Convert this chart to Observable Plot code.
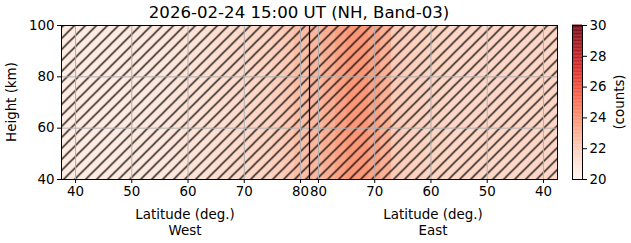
<!DOCTYPE html>
<html><head><meta charset="utf-8">
<script src="https://cdn.jsdelivr.net/npm/d3@7"></script>
<script src="https://cdn.jsdelivr.net/npm/@observablehq/plot@0.6"></script>
<style>
body{margin:0;background:#fff;}
#wrap{position:relative;width:631px;height:243px;overflow:hidden;}
#wrap svg{position:absolute;left:0;top:0;font-family:"DejaVu Sans",sans-serif !important;}
#wrap svg text{font-size:13.4px !important;fill:#000;}
#wrap svg text.title{font-size:16.6px !important;}
</style>
</head><body>
<div id="wrap"></div>
<script>
// ---- data ----
const title = "2026-02-24 15:00 UT (NH, Band-03)";
const westLat = [38,40,42,44,46,48,50,52,54,56,58,60,62,64,66,68,70,72,74,76,78,80];
const westVal = [20.6,20.6,20.6,20.6,20.6,20.6,20.7,20.7,20.8,20.8,20.9,21.0,21.0,21.1,21.2,21.3,21.4,21.5,21.6,21.8,22.0,22.4];
const eastLat = [80,78,76,74,72,70,68,66,64,62,60,58,56,54,52,50,48,46,44,42,40,38];
const eastVal = [22.6,22.9,23.3,23.6,23.6,23.3,22.8,21.9,21.8,21.7,21.6,21.6,21.5,21.5,21.5,21.5,21.5,21.5,21.5,21.5,21.5,21.5];
const latTicks = [40,50,60,70,80];
const heightTicks = [40,60,80,100];
const colorTicks = [20,22,24,26,28,30];
const latMin = 37.5, latMax = 81.6, hMin = 40, hMax = 100, cMin = 20, cMax = 30;

// ---- build ----
const toU = (lat, side) => side === "W" ? lat : 2*latMax - lat;
const lo = (lat) => lat === 38 ? latMin : lat - 1;
const hi = (lat) => lat === 80 ? latMax : lat + 1;
const cells = [];
westLat.forEach((lat,i)=>cells.push({x1:toU(lo(lat),"W"), x2:toU(hi(lat),"W"), v:westVal[i]}));
eastLat.forEach((lat,i)=>cells.push({x1:toU(hi(lat),"E"), x2:toU(lo(lat),"E"), v:eastVal[i]}));
const xTicks = [...latTicks.map(l=>toU(l,"W")), ...latTicks.slice().reverse().map(l=>toU(l,"E"))];
const xLabels = new Map(xTicks.map(u=>[u, String(Math.round(u<=latMax?u:2*latMax-u))]));

const W = 631, H = 243, mL = 61, mR = 74, mT = 25, mB = 64;
const main = Plot.plot({
  width: W, height: H, marginLeft: mL, marginRight: mR, marginTop: mT, marginBottom: mB,
  style: {background: "transparent", color: "#000"},
  x: {domain: [latMin, 2*latMax-latMin], ticks: xTicks, tickFormat: d => xLabels.get(d), tickSize: 4, tickPadding: 3, label: null},
  y: {domain: [hMin, hMax], ticks: heightTicks, tickSize: 4, tickPadding: 3, label: null},
  color: {type: "linear", scheme: "reds", domain: [cMin, cMax]},
  marks: [
    Plot.rect(cells, {x1: "x1", x2: "x2", y1: hMin, y2: hMax, fill: "v", inset: -0.3, shapeRendering: "crispEdges"}),
    Plot.frame({fill: "url(#hatch)", stroke: null, fillOpacity: 1}),
    Plot.gridX(xTicks, {stroke: "#b0b0b0", strokeOpacity: 1, strokeWidth: 1}),
    Plot.gridY(heightTicks, {stroke: "#b0b0b0", strokeOpacity: 1, strokeWidth: 1}),
    Plot.ruleX([latMax], {stroke: "#000", strokeWidth: 1.2}),
    Plot.frame({stroke: "#000", strokeWidth: 1})
  ]
});
const ns = "http://www.w3.org/2000/svg";
const defs = document.createElementNS(ns, "defs");
defs.innerHTML = '<pattern id="hatch" patternUnits="userSpaceOnUse" width="11" height="11"><path d="M-2,2 L2,-2 M0,11 L11,0 M9,13 L13,9" stroke="#000" stroke-width="1.25" fill="none"/></pattern>';
main.insertBefore(defs, main.firstChild);
const wrap = document.getElementById("wrap");
wrap.appendChild(main);

// colorbar
const cbSteps = d3.range(0, 200).map(i => cMin + (cMax - cMin) * i / 199);
const cb = Plot.plot({
  width: W, height: H, marginLeft: 572, marginRight: W - 582, marginTop: mT, marginBottom: mB,
  style: {background: "transparent", color: "#000"},
  x: {domain: [0, 1], axis: null},
  y: {domain: [cMin, cMax], ticks: colorTicks, axis: "right", tickSize: 4, tickPadding: 3, label: null},
  color: {type: "linear", scheme: "reds", domain: [cMin, cMax]},
  marks: [
    Plot.rect(cbSteps, {x1: 0, x2: 1, y1: d => d - 0.03, y2: d => d + 0.03, fill: d => d}),
    Plot.frame({stroke: "#000"})
  ]
});
wrap.appendChild(cb);

// texts
function addText(txt, x, y, rot, cls) {
  const t = document.createElementNS(ns, "text");
  t.textContent = txt;
  t.setAttribute("text-anchor", "middle");
  t.setAttribute("transform", `translate(${x},${y})` + (rot ? ` rotate(${rot})` : ""));
  if (cls) t.setAttribute("class", cls);
  cb.appendChild(t);
}
const xDiv = mL + (W - mL - mR) * (latMax - latMin) / (2*latMax - 2*latMin);
const cW = (mL + xDiv) / 2, cE = (xDiv + W - mR) / 2;
addText(title, 299, 18, 0, "title");
addText("Latitude (deg.)", cW, 219);
addText("West", cW, 235);
addText("Latitude (deg.)", cE, 219);
addText("East", cE, 235);
addText("Height (km)", 16, 102, -90);
addText("(counts)", 624, 102, -90);
</script>
</body></html>
